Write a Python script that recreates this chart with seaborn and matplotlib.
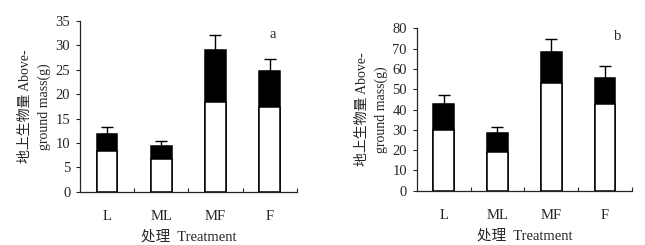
import matplotlib
matplotlib.use('Agg')
import matplotlib.pyplot as plt
import seaborn as sns
import pandas as pd
import numpy as np

# Data
treatments = ['L', 'ML', 'MF', 'F']

a_lower = [8.3, 6.6, 18.3, 17.4]      # white part
a_total = [11.8, 9.3, 29.1, 24.7]     # top of black part
a_err_top = [13.2, 10.3, 32.1, 27.3]

b_lower = [30.0, 19.0, 53.0, 42.5]
b_total = [42.5, 28.5, 68.5, 55.5]
b_err_top = [47.0, 31.5, 75.0, 61.5]

sns.set_style('ticks')
plt.rcParams['font.family'] = ['Liberation Serif', 'Noto Sans CJK SC']
plt.rcParams['font.size'] = 10.5


def draw_panel(ax, lower, total, err_top, ymax, step, tag, tag_xy):
    df = pd.DataFrame({'Treatment': treatments, 'lower': lower, 'total': total})
    sns.barplot(data=df, x='Treatment', y='total', color='black', width=0.38,
                edgecolor='black', linewidth=1.1, saturation=1, ax=ax)
    sns.barplot(data=df, x='Treatment', y='lower', color='white', width=0.38,
                edgecolor='black', linewidth=1.1, saturation=1, ax=ax)
    x = np.arange(len(treatments))
    up = np.array(err_top) - np.array(total)
    ax.errorbar(x, total, yerr=[np.zeros_like(up), up], fmt='none',
                ecolor='black', elinewidth=1, capsize=4, capthick=1)
    ax.set_xlim(-0.5, 3.5)
    ax.set_ylim(0, ymax)
    ax.set_yticks(np.arange(0, ymax + 1, step))
    ax.set_xticks(np.arange(4))
    ax.set_xticklabels(treatments)
    ax.tick_params(axis='x', length=0, pad=13)
    ax.set_xticks([0.5, 1.5, 2.5, 3.5], minor=True)
    ax.tick_params(axis='x', which='minor', direction='in', length=3, width=0.8)
    ax.tick_params(axis='y', direction='out', length=3, width=0.8, pad=4)
    for s in ['top', 'right']:
        ax.spines[s].set_visible(False)
    for s in ['left', 'bottom']:
        ax.spines[s].set_linewidth(0.9)
    ax.set_xlabel('处理  Treatment', labelpad=5)
    ax.set_ylabel('地上生物量 Above-\nground mass(g)', linespacing=1.55,
                  labelpad=3, fontsize=10)
    ax.text(tag_xy[0], tag_xy[1], tag, ha='center', va='center')


fig = plt.figure(figsize=(6.45, 2.45), dpi=100)
ax1 = fig.add_axes([0.124, 0.218, 0.336, 0.696])
ax2 = fig.add_axes([0.646, 0.222, 0.334, 0.662])

draw_panel(ax1, a_lower, a_total, a_err_top, 35, 5, 'a', (3.06, 32.3))
draw_panel(ax2, b_lower, b_total, b_err_top, 80, 10, 'b', (3.24, 76.2))

plt.savefig('out.png', dpi=100)
plt.close(fig)
